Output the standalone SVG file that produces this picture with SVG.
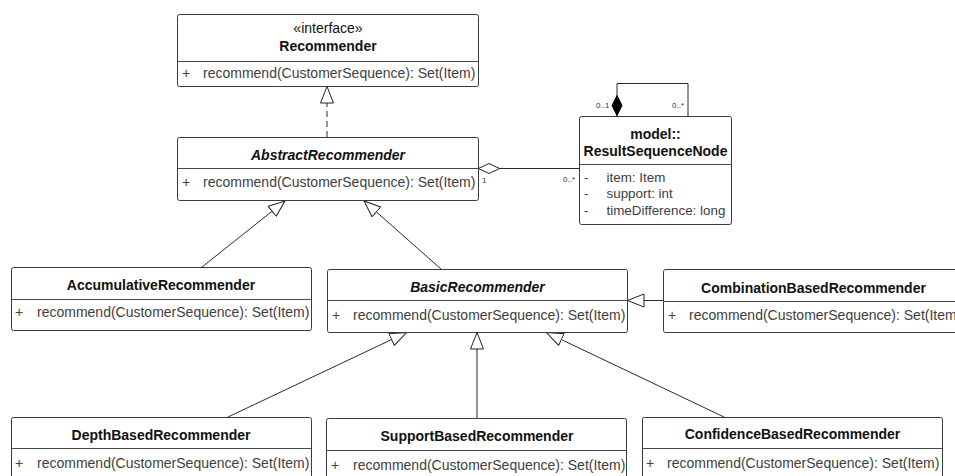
<svg xmlns="http://www.w3.org/2000/svg" width="955" height="476" viewBox="0 0 955 476">
  <style>
    text { font-family: "Liberation Sans", Arial, sans-serif; }
    .box { fill: #ffffff; stroke: #3a3a3a; stroke-width: 1; }
    .div { stroke: #4a4a4a; stroke-width: 1; }
    .title { font-size: 14px; font-weight: bold; fill: #111; text-anchor: middle; }
    .abstract { font-style: italic; }
    .stereo { font-size: 14px; fill: #111; text-anchor: middle; }
    .member { font-size: 14px; fill: #404040; }
    .attr { font-size: 13.4px; fill: #404040; }
    .mult { font-size: 8px; fill: #333; }
    .edge { fill: none; stroke: #2a2a2a; stroke-width: 1; }
    .dashed { stroke-dasharray: 6 4; }
  </style>
  <defs>
    <!-- hollow triangle for generalization / realization -->
    <marker id="gen" markerUnits="userSpaceOnUse" markerWidth="20" markerHeight="16" refX="17" refY="7" orient="auto">
      <path d="M0.5,0.5 L17,7 L0.5,13.5 Z" fill="#fff" stroke="#222" stroke-width="1" stroke-dasharray="none"/>
    </marker>
    <!-- hollow diamond for aggregation -->
    <marker id="agg" markerUnits="userSpaceOnUse" markerWidth="24" markerHeight="12" refX="22" refY="5.5" orient="auto">
      <path d="M0.5,5.5 L11,0.5 L21.5,5.5 L11,10.5 Z" fill="#fff" stroke="#222" stroke-width="1"/>
    </marker>
    <!-- filled diamond for composition -->
    <marker id="comp" markerUnits="userSpaceOnUse" markerWidth="24" markerHeight="12" refX="21" refY="5.5" orient="auto">
      <path d="M0.5,5.5 L10.5,0.5 L20.5,5.5 L10.5,10.5 Z" fill="#000" stroke="#000" stroke-width="1"/>
    </marker>
  </defs>

  <rect width="955" height="476" fill="#ffffff"/>

  <!-- connectors -->
  <g id="connectors">
    <line class="edge dashed" x1="327" y1="137" x2="327" y2="86.5" marker-end="url(#gen)"/>
    <line class="edge" x1="202" y1="267" x2="285" y2="201" marker-end="url(#gen)"/>
    <line class="edge" x1="441" y1="269" x2="364" y2="201" marker-end="url(#gen)"/>
    <line class="edge" x1="663" y1="300.5" x2="627.5" y2="300.5" marker-end="url(#gen)"/>
    <line class="edge" x1="228" y1="417" x2="406.5" y2="332.5" marker-end="url(#gen)"/>
    <line class="edge" x1="477" y1="418" x2="477" y2="332.5" marker-end="url(#gen)"/>
    <line class="edge" x1="724" y1="417" x2="546.5" y2="332.5" marker-end="url(#gen)"/>
    <line class="edge" x1="579" y1="168.5" x2="478" y2="168.5" marker-end="url(#agg)"/>
    <polyline class="edge" points="688,116 688,83.5 617,83.5 617,116" marker-end="url(#comp)"/>
    <text class="mult" x="482" y="183">1</text>
    <text class="mult" x="563" y="182">0..*</text>
    <text class="mult" x="596" y="107.5">0..1</text>
    <text class="mult" x="672" y="107.5">0..*</text>
  </g>

  <g id="Recommender">
    <rect class="box" x="177.5" y="14.5" width="301" height="72" rx="2"/>
    <line class="div" x1="177.5" y1="61.5" x2="478.5" y2="61.5"/>
    <text class="stereo" x="328" y="33">«interface»</text>
    <text class="title" x="328" y="50.5">Recommender</text>
    <text class="member" x="182" y="77.5">+</text>
    <text class="member" x="203" y="77.5">recommend(CustomerSequence): Set(Item)</text>
  </g>

  <g id="AbstractRecommender">
    <rect class="box" x="177.5" y="137.5" width="301" height="63" rx="2"/>
    <line class="div" x1="177.5" y1="168.5" x2="478.5" y2="168.5"/>
    <text class="title abstract" x="328" y="159.5">AbstractRecommender</text>
    <text class="member" x="182" y="186.5">+</text>
    <text class="member" x="203" y="186.5">recommend(CustomerSequence): Set(Item)</text>
  </g>

  <g id="ResultSequenceNode">
    <rect class="box" x="579.5" y="116.5" width="152" height="108" rx="2"/>
    <line class="div" x1="579.5" y1="164.5" x2="731.5" y2="164.5"/>
    <text class="title" x="655.5" y="139">model::</text>
    <text class="title" x="655.5" y="156">ResultSequenceNode</text>
    <text class="attr" x="584" y="181.5">-</text>
    <text class="attr" x="606.5" y="181.5">item: Item</text>
    <text class="attr" x="584" y="198">-</text>
    <text class="attr" x="606.5" y="198">support: int</text>
    <text class="attr" x="584" y="215">-</text>
    <text class="attr" x="606.5" y="215">timeDifference: long</text>
  </g>

  <g id="AccumulativeRecommender">
    <rect class="box" x="11.5" y="267.5" width="300" height="63" rx="2"/>
    <line class="div" x1="11.5" y1="299.5" x2="311.5" y2="299.5"/>
    <text class="title" x="161" y="290">AccumulativeRecommender</text>
    <text class="member" x="15" y="316.5">+</text>
    <text class="member" x="37" y="316.5">recommend(CustomerSequence): Set(Item)</text>
  </g>

  <g id="BasicRecommender">
    <rect class="box" x="327.5" y="269.5" width="300" height="63" rx="2"/>
    <line class="div" x1="327.5" y1="300.5" x2="627.5" y2="300.5"/>
    <text class="title abstract" x="477.5" y="291.5">BasicRecommender</text>
    <text class="member" x="332" y="320">+</text>
    <text class="member" x="353" y="320">recommend(CustomerSequence): Set(Item)</text>
  </g>

  <g id="CombinationBasedRecommender">
    <rect class="box" x="663.5" y="269.5" width="300" height="63" rx="2"/>
    <line class="div" x1="663.5" y1="301.5" x2="963.5" y2="301.5"/>
    <text class="title" x="813.5" y="292.5">CombinationBasedRecommender</text>
    <text class="member" x="668" y="320">+</text>
    <text class="member" x="689" y="320">recommend(CustomerSequence): Set(Item)</text>
  </g>

  <g id="DepthBasedRecommender">
    <rect class="box" x="11.5" y="417.5" width="300" height="70" rx="2"/>
    <line class="div" x1="11.5" y1="448.5" x2="311.5" y2="448.5"/>
    <text class="title" x="161" y="439.5">DepthBasedRecommender</text>
    <text class="member" x="15" y="467.5">+</text>
    <text class="member" x="37" y="467.5">recommend(CustomerSequence): Set(Item)</text>
  </g>

  <g id="SupportBasedRecommender">
    <rect class="box" x="326.5" y="418.5" width="300" height="70" rx="2"/>
    <line class="div" x1="326.5" y1="450.5" x2="626.5" y2="450.5"/>
    <text class="title" x="477" y="440.5">SupportBasedRecommender</text>
    <text class="member" x="331" y="469.5">+</text>
    <text class="member" x="353" y="469.5">recommend(CustomerSequence): Set(Item)</text>
  </g>

  <g id="ConfidenceBasedRecommender">
    <rect class="box" x="642.5" y="417.5" width="300" height="70" rx="2"/>
    <line class="div" x1="642.5" y1="448.5" x2="942.5" y2="448.5"/>
    <text class="title" x="792.5" y="439">ConfidenceBasedRecommender</text>
    <text class="member" x="646" y="467.5">+</text>
    <text class="member" x="667" y="467.5">recommend(CustomerSequence): Set(Item)</text>
  </g>
</svg>
